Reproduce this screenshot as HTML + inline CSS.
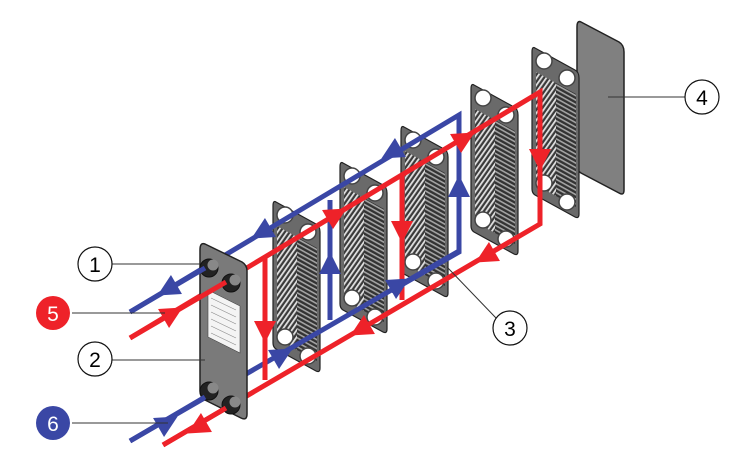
<!DOCTYPE html>
<html><head><meta charset="utf-8"><style>
html,body{margin:0;padding:0;background:#fff;}
svg{display:block;}
text{font-family:"Liberation Sans",sans-serif;}
</style></head><body>
<svg width="750" height="461" viewBox="0 0 750 461" xmlns="http://www.w3.org/2000/svg">
<defs>
<pattern id="hatch" width="4" height="4" patternUnits="userSpaceOnUse" patternTransform="rotate(35)">
<rect width="4" height="4" fill="#3a3a3a"/><rect width="1.8" height="4" fill="#e0e0e0"/>
</pattern>
<pattern id="ridge" width="4" height="4.5" patternUnits="userSpaceOnUse" patternTransform="skewY(29)">
<rect width="4" height="4.5" fill="#333"/><rect width="4" height="1.8" fill="#a5a5a5"/>
</pattern>
<g id="plate">
<path d="M3,0 L43,22 Q47,24 47,30 L47,166 Q47,171 43,169 L3,147 Q0,145 0,141 L0,4 Q0,-2 3,0 Z" fill="#6a6a6a" stroke="#222" stroke-width="1.2"/>
<path d="M4,24 L24,35 L24,148 L4,137 Z" fill="url(#hatch)"/>
<path d="M24,35 L44,46 L44,159 L24,148 Z" fill="url(#ridge)"/>
<g fill="#fff" stroke="#444" stroke-width="1.5">
<ellipse cx="12" cy="13" rx="8" ry="8"/>
<ellipse cx="35" cy="30" rx="8" ry="8"/>
<ellipse cx="12" cy="135" rx="8" ry="8"/>
<ellipse cx="35" cy="154" rx="8" ry="8"/>
</g>
</g>
<polygon id="ar" points="3,0 -19,-11 -19,11"/>
</defs>

<!-- back plates -->
<path d="M581,22 L619,42 Q624,45 624,52 L624,190 Q624,196 619,193 L581,173 Q577,171 577,165 L577,27 Q577,20 581,22 Z" fill="#808080" stroke="#222" stroke-width="1.5"/>
<use href="#plate" x="532" y="48"/>
<use href="#plate" x="471" y="85"/>
<use href="#plate" x="401" y="127"/>
<use href="#plate" x="340" y="163"/>
<use href="#plate" x="273" y="202"/>

<!-- pipes -->
<g fill="none" stroke-width="5" stroke-linejoin="miter">
<polyline stroke="#3a47a5" points="130,312 459,115 459,252 391,291"/>
<polyline stroke="#3a47a5" points="130,441 459,251"/>
<polyline stroke="#3a47a5" points="330,200 330,320"/>
<polyline stroke="#ee2229" points="130,338 540,92 540,224 163,445"/>
<polyline stroke="#ee2229" points="265,257 265,380"/>
<polyline stroke="#ee2229" points="402,175 402,300"/>
</g>
<g fill="#3a47a5">
<use href="#ar" transform="translate(254,237) rotate(150)"/>
<use href="#ar" transform="translate(384,157) rotate(150)"/>
<use href="#ar" transform="translate(290,350) rotate(-30)"/>
<use href="#ar" transform="translate(407,280) rotate(-30)"/>
<use href="#ar" transform="translate(330,255) rotate(-90)"/>
<use href="#ar" transform="translate(459,178) rotate(-90)"/>
</g>
<g fill="#ee2229">
<use href="#ar" transform="translate(344,210) rotate(-30)"/>
<use href="#ar" transform="translate(472,134) rotate(-30)"/>
<use href="#ar" transform="translate(353,334) rotate(150)"/>
<use href="#ar" transform="translate(478,261) rotate(150)"/>
<use href="#ar" transform="translate(265,340) rotate(90)"/>
<use href="#ar" transform="translate(402,240) rotate(90)"/>
<use href="#ar" transform="translate(540,168) rotate(90)"/>
</g>

<!-- front frame plate -->
<path d="M205,244 L242,262 Q247,265 247,271 L247,414 Q247,421 241,418 L205,400 Q200,397 200,391 L200,250 Q200,242 205,244 Z" fill="#7a7a7a" stroke="#222" stroke-width="1.5"/>
<path d="M208,290 L240,306 L240,353 L208,337 Z" fill="#f4f4f4" stroke="#444" stroke-width="0.6"/>
<g stroke="#888" stroke-width="0.6">
<line x1="211" y1="298" x2="236" y2="310"/><line x1="211" y1="305" x2="236" y2="317"/>
<line x1="211" y1="312" x2="236" y2="324"/><line x1="211" y1="319" x2="236" y2="331"/>
<line x1="211" y1="326" x2="236" y2="338"/><line x1="211" y1="333" x2="236" y2="345"/>
</g>
<g fill="#222" stroke="#111">
<circle cx="209" cy="268" r="9"/><circle cx="231" cy="283" r="9"/>
<circle cx="209" cy="391" r="9"/><circle cx="231" cy="405" r="9"/>
</g>
<g fill="#888"><circle cx="213" cy="265" r="5.5"/><circle cx="235" cy="280" r="5.5"/><circle cx="213" cy="388" r="5.5"/><circle cx="235" cy="402" r="5.5"/></g>
<g stroke-width="5">
<line x1="130" y1="312" x2="205" y2="268" stroke="#3a47a5"/>
<line x1="130" y1="338" x2="226" y2="282" stroke="#ee2229"/>
<line x1="130" y1="441" x2="205" y2="397" stroke="#3a47a5"/>
<line x1="163" y1="445" x2="226" y2="408" stroke="#ee2229"/>
</g>
<g fill="#3a47a5"><use href="#ar" transform="translate(160,294) rotate(150)"/><use href="#ar" transform="translate(175,418) rotate(-30)"/></g>
<g fill="#ee2229"><use href="#ar" transform="translate(180,309) rotate(-30)"/><use href="#ar" transform="translate(190,432) rotate(150)"/></g>

<!-- leaders -->
<g stroke="#333" stroke-width="1">
<line x1="112" y1="264" x2="200" y2="264"/>
<line x1="72" y1="313" x2="165" y2="313"/>
<line x1="112" y1="360" x2="205" y2="360"/>
<line x1="72" y1="423" x2="168" y2="423"/>
<line x1="496" y1="318" x2="447" y2="267"/>
<line x1="686" y1="97" x2="608" y2="97"/>
</g>
<g stroke="#111" stroke-width="1.2" fill="#fff">
<circle cx="95" cy="264" r="17"/><circle cx="95" cy="359" r="17"/>
<circle cx="510" cy="328" r="17"/><circle cx="702" cy="97" r="17"/>
</g>
<circle cx="53" cy="313" r="17" fill="#ee2229"/>
<circle cx="53" cy="423" r="17" fill="#3a47a5"/>
<g font-size="21" text-anchor="middle">
<text x="95" y="272">1</text><text x="95" y="367">2</text>
<text x="510" y="336">3</text><text x="702" y="105">4</text>
<text x="53" y="321" fill="#fff">5</text><text x="53" y="431" fill="#fff">6</text>
</g>
</svg>
</body></html>
